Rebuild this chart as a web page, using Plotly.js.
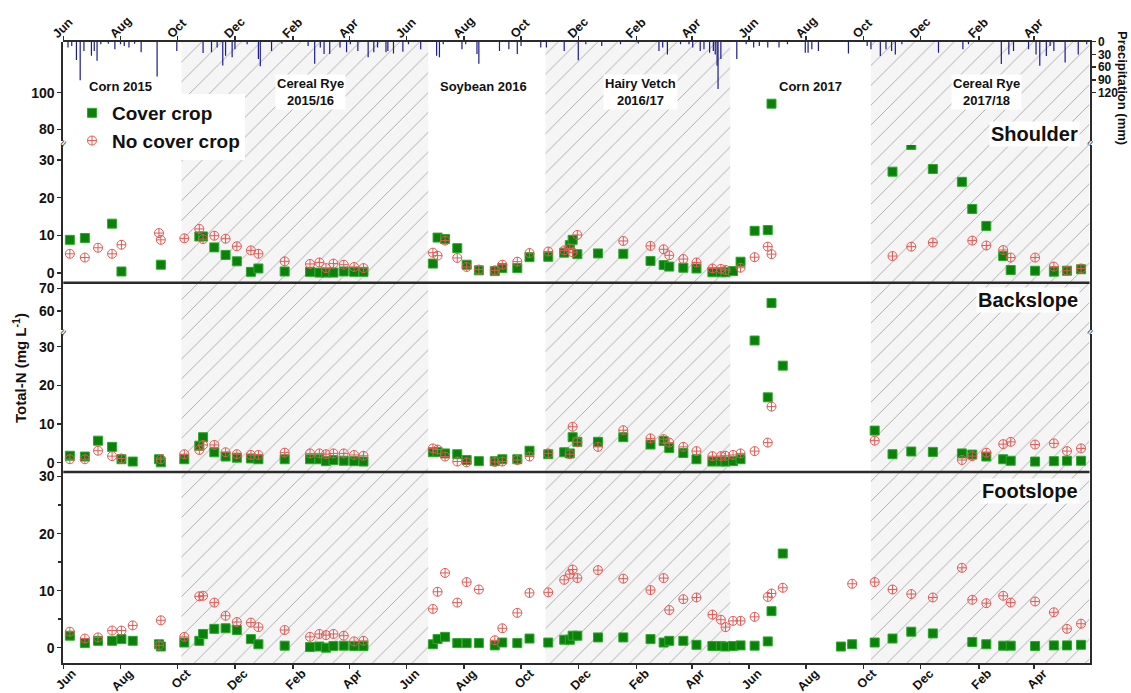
<!DOCTYPE html>
<html>
<head>
<meta charset="utf-8">
<script src="https://cdn.plot.ly/plotly-3.0.1.min.js"></script>
<style>html,body{margin:0;padding:0;background:#fff;}#chart{width:1131px;height:693px;}</style>
</head>
<body>
<div id="chart"></div>
<script>
// ---------------- DATA ----------------
// Cover-crop seasons (hatched)
const seasonStart = ['2015-10-05', '2016-10-27', '2017-10-09'];
const seasonEnd   = ['2016-06-24', '2017-05-12', '2018-05-30'];

// Daily precipitation (mm)
const precipDates = ['2015-06-06','2015-06-10','2015-06-15','2015-06-19','2015-06-23','2015-07-01','2015-07-04','2015-07-07','2015-07-11','2015-07-19','2015-07-26','2015-08-01','2015-08-05','2015-08-10','2015-08-16','2015-08-23','2015-09-09','2015-09-30','2015-10-28','2015-11-06','2015-11-12','2015-11-18','2015-11-21','2015-11-28','2015-12-01','2015-12-14','2015-12-26','2015-12-28','2016-01-09','2016-01-20','2016-02-17','2016-02-24','2016-03-01','2016-03-05','2016-03-11','2016-03-22','2016-03-29','2016-04-02','2016-04-10','2016-04-21','2016-04-27','2016-05-01','2016-05-10','2016-05-12','2016-05-18','2016-05-28','2016-06-03','2016-06-16','2016-07-03','2016-07-06','2016-07-10','2016-07-30','2016-08-03','2016-08-15','2016-08-17','2016-09-08','2016-09-18','2016-09-27','2016-10-01','2016-10-22','2016-10-28','2016-11-16','2016-12-01','2016-12-09','2016-12-26','2017-01-15','2017-02-03','2017-02-25','2017-03-01','2017-03-06','2017-03-20','2017-03-29','2017-04-02','2017-04-10','2017-04-14','2017-04-20','2017-04-24','2017-04-26','2017-04-28','2017-04-29','2017-05-02','2017-05-19','2017-05-29','2017-06-06','2017-06-12','2017-06-21','2017-07-03','2017-07-12','2017-07-31','2017-08-03','2017-08-07','2017-08-14','2017-09-15','2017-10-05','2017-10-09','2017-10-19','2017-10-25','2017-10-31','2017-11-04','2017-11-11','2017-12-20','2018-01-15','2018-01-21','2018-02-25','2018-03-05','2018-03-10','2018-03-26','2018-04-03','2018-04-07','2018-04-14','2018-04-18','2018-04-22','2018-05-04','2018-05-18','2018-05-27'];
const precipValues = [14,10,43,91,22,33,22,45,6,5,18,6,10,14,5,25,82,22,27,25,14,56,33,37,18,6,41,58,22,5,10,52,14,29,29,14,25,6,22,37,25,14,25,22,28,24,6,18,33,37,6,18,6,29,52,22,18,29,10,14,14,22,44,6,10,6,4,22,14,30,6,6,14,22,18,26,22,30,57,112,41,41,6,14,10,14,14,6,26,26,18,22,28,10,18,34,18,22,30,6,26,18,6,53,30,22,18,30,57,34,10,22,49,30,6];

// Shoulder
const shCoverDates = ['2015-06-08','2015-06-24','2015-07-23','2015-08-02','2015-09-13','2015-10-24','2015-10-28','2015-11-09','2015-11-21','2015-12-03','2015-12-18','2015-12-26','2016-01-23','2016-02-19','2016-02-29','2016-03-07','2016-03-15','2016-03-26','2016-04-06','2016-04-16','2016-06-29','2016-07-04','2016-07-12','2016-07-25','2016-08-04','2016-08-17','2016-09-03','2016-09-11','2016-09-27','2016-10-10','2016-10-30','2016-11-16','2016-11-22','2016-11-25','2016-11-30','2016-12-22','2017-01-18','2017-02-16','2017-03-02','2017-03-08','2017-03-23','2017-04-06','2017-04-23','2017-05-02','2017-05-07','2017-05-15','2017-05-23','2017-06-07','2017-06-21','2017-06-25','2017-11-01','2017-11-21','2017-12-14','2018-01-14','2018-01-25','2018-02-09','2018-02-27','2018-03-07','2018-04-02','2018-04-22','2018-05-06','2018-05-21'];
const shCoverValues = [8.8,9.3,13.1,0.4,2.2,9.7,9.7,6.8,4.8,3.1,0.3,1.2,0.4,0.3,0.1,0.1,0.1,0.4,0.3,0.3,2.5,9.4,9.0,6.6,2.2,0.7,0.5,1.3,1.3,4.2,4.3,5.4,7.4,8.8,5.0,5.2,5.1,3.2,2.1,1.7,1.4,1.2,0.2,0.2,0.2,0.5,3.0,11.2,11.4,94,26.9,34,27.6,24.2,17.0,12.5,4.5,0.8,0.6,0.35,0.6,1.0];
const shNoCoverDates = ['2015-06-08','2015-06-24','2015-07-08','2015-07-23','2015-08-02','2015-09-11','2015-09-13','2015-10-08','2015-10-24','2015-10-28','2015-11-09','2015-11-21','2015-12-03','2015-12-18','2015-12-26','2016-01-23','2016-02-19','2016-02-29','2016-03-07','2016-03-15','2016-03-26','2016-04-06','2016-04-16','2016-06-29','2016-07-04','2016-07-12','2016-07-25','2016-08-04','2016-08-17','2016-09-03','2016-09-11','2016-09-27','2016-10-10','2016-10-30','2016-11-16','2016-11-22','2016-11-25','2016-11-30','2017-01-18','2017-02-16','2017-03-02','2017-03-08','2017-03-23','2017-04-06','2017-04-23','2017-05-02','2017-05-07','2017-05-23','2017-06-07','2017-06-21','2017-06-25','2017-11-01','2017-11-21','2017-12-14','2018-01-25','2018-02-09','2018-02-27','2018-03-07','2018-04-02','2018-04-22','2018-05-06','2018-05-21'];
const shNoCoverValues = [5.1,4.1,6.7,5.1,7.5,10.6,8.8,9.2,11.7,9.0,9.9,9.1,7.1,6.0,5.1,3.1,2.4,2.8,1.3,2.5,2.2,1.6,1.3,5.4,4.6,8.6,4.0,1.6,0.9,0.7,2.2,3.0,5.3,5.7,6.0,6.5,5.5,10.1,8.5,7.2,6.3,4.7,3.7,2.8,1.2,1.1,0.8,1.4,4.2,7.0,5.0,4.5,7.0,8.1,8.6,7.3,6.1,4.1,4.1,1.7,0.6,1.2];

// Backslope
const bsCoverDates = ['2015-06-08','2015-06-24','2015-07-08','2015-07-23','2015-08-02','2015-08-14','2015-09-11','2015-09-13','2015-10-08','2015-10-24','2015-10-28','2015-11-09','2015-11-21','2015-12-03','2015-12-18','2015-12-26','2016-01-23','2016-02-19','2016-02-29','2016-03-07','2016-03-15','2016-03-26','2016-04-06','2016-04-16','2016-06-29','2016-07-04','2016-07-12','2016-07-25','2016-08-04','2016-08-17','2016-09-03','2016-09-11','2016-09-27','2016-10-10','2016-10-30','2016-11-16','2016-11-22','2016-11-25','2016-11-30','2016-12-22','2017-01-18','2017-02-16','2017-03-02','2017-03-08','2017-03-23','2017-04-06','2017-04-23','2017-05-02','2017-05-07','2017-05-15','2017-05-23','2017-06-07','2017-06-21','2017-06-25','2017-07-07','2017-10-13','2017-11-01','2017-11-21','2017-12-14','2018-01-14','2018-01-25','2018-02-09','2018-02-27','2018-03-07','2018-04-02','2018-04-22','2018-05-06','2018-05-21'];
const bsCoverValues = [1.8,1.6,5.7,4.1,0.9,0.3,0.9,0.1,0.9,4.4,6.6,2.7,1.6,1.3,1.1,0.9,0.9,0.9,0.9,0.4,0.7,0.5,0.4,0.3,2.7,2.8,2.4,2.2,0.7,0.4,0.4,0.9,0.9,3.1,2.2,2.7,2.4,6.6,5.4,5.4,6.6,4.7,5.6,3.8,2.5,0.9,0.3,0.3,0.3,0.4,0.9,31.6,16.9,63.5,25.1,8.3,2.2,2.9,2.8,2.4,2.1,1.6,0.9,0.5,0.3,0.4,0.5,0.5];
const bsNoCoverDates = ['2015-06-08','2015-06-24','2015-07-08','2015-07-23','2015-08-02','2015-09-13','2015-10-08','2015-10-24','2015-10-28','2015-11-09','2015-11-21','2015-12-03','2015-12-18','2015-12-26','2016-01-23','2016-02-19','2016-02-29','2016-03-07','2016-03-15','2016-03-26','2016-04-06','2016-04-16','2016-06-29','2016-07-04','2016-07-12','2016-07-25','2016-08-04','2016-09-03','2016-09-11','2016-09-27','2016-10-10','2016-10-30','2016-11-22','2016-11-25','2016-11-30','2016-12-22','2017-01-18','2017-02-16','2017-03-02','2017-03-08','2017-03-23','2017-04-06','2017-04-23','2017-05-02','2017-05-07','2017-05-15','2017-05-23','2017-06-07','2017-06-21','2017-06-25','2017-10-13','2018-01-14','2018-01-25','2018-02-09','2018-02-27','2018-03-07','2018-04-02','2018-04-22','2018-05-06','2018-05-21'];
const bsNoCoverValues = [0.9,0.9,3.1,1.7,1.1,0.9,2.2,3.3,4.6,4.6,2.7,2.2,2.0,2.0,2.6,2.4,2.4,2.2,2.4,2.4,2.0,1.8,3.7,3.4,1.6,0.3,0.1,0.2,0.3,0.7,1.6,2.4,2.2,9.3,5.3,4.1,8.4,6.3,6.1,5.2,4.1,3.0,1.7,1.7,1.8,2.0,2.4,3.0,5.2,14.5,5.7,0.7,1.7,2.6,4.8,5.4,4.7,5.0,3.0,3.7];

// Footslope
const fsCoverDates = ['2015-06-08','2015-06-24','2015-07-08','2015-07-23','2015-08-02','2015-08-14','2015-09-11','2015-09-13','2015-10-08','2015-10-24','2015-10-28','2015-11-09','2015-11-21','2015-12-03','2015-12-18','2015-12-26','2016-01-23','2016-02-19','2016-02-29','2016-03-07','2016-03-15','2016-03-26','2016-04-06','2016-04-16','2016-06-29','2016-07-04','2016-07-12','2016-07-25','2016-08-04','2016-08-17','2016-09-03','2016-09-11','2016-09-27','2016-10-10','2016-10-30','2016-11-16','2016-11-22','2016-11-25','2016-11-30','2016-12-22','2017-01-18','2017-02-16','2017-03-02','2017-03-08','2017-03-23','2017-04-06','2017-04-23','2017-05-02','2017-05-07','2017-05-15','2017-05-23','2017-06-07','2017-06-21','2017-06-25','2017-07-07','2017-09-07','2017-09-19','2017-10-13','2017-11-01','2017-11-21','2017-12-14','2018-01-25','2018-02-09','2018-02-27','2018-03-07','2018-04-02','2018-04-22','2018-05-06','2018-05-21'];
const fsCoverValues = [2.1,0.8,1.2,1.2,1.5,1.2,0.6,0.2,0.9,1.2,2.4,3.3,3.4,3.1,1.5,0.6,0.35,0.1,0.2,0.0,0.3,0.35,0.3,0.3,0.6,1.5,1.9,0.8,0.8,0.8,0.4,0.9,0.8,1.6,0.9,1.4,1.4,2.1,2.1,1.8,1.8,1.5,0.9,1.2,1.2,0.5,0.3,0.3,0.2,0.3,0.4,0.35,1.1,6.4,16.5,0.2,0.6,0.9,1.6,2.8,2.5,1.0,0.6,0.35,0.35,0.3,0.4,0.4,0.5];
const fsNoCoverDates = ['2015-06-08','2015-06-24','2015-07-08','2015-07-23','2015-08-02','2015-08-14','2015-09-11','2015-09-13','2015-10-08','2015-10-24','2015-10-28','2015-11-09','2015-11-21','2015-12-03','2015-12-18','2015-12-26','2016-01-23','2016-02-19','2016-02-29','2016-03-07','2016-03-15','2016-03-26','2016-04-06','2016-04-16','2016-06-29','2016-07-04','2016-07-12','2016-07-25','2016-08-04','2016-08-17','2016-09-03','2016-09-11','2016-09-27','2016-10-10','2016-10-30','2016-11-16','2016-11-22','2016-11-25','2016-11-30','2016-12-22','2017-01-18','2017-02-16','2017-03-02','2017-03-08','2017-03-23','2017-04-06','2017-04-23','2017-05-02','2017-05-07','2017-05-15','2017-05-23','2017-06-07','2017-06-21','2017-06-25','2017-07-07','2017-09-19','2017-10-13','2017-11-01','2017-11-21','2017-12-14','2018-01-14','2018-01-25','2018-02-09','2018-02-27','2018-03-07','2018-04-02','2018-04-22','2018-05-06','2018-05-21'];
const fsNoCoverValues = [2.8,1.6,1.8,3.0,3.0,3.9,0.4,4.8,1.9,9.0,9.1,7.9,5.6,4.5,4.4,3.6,3.1,1.9,2.4,2.2,2.4,2.1,1.1,1.2,6.8,9.8,13.1,7.9,11.5,10.2,1.3,3.4,6.1,9.6,9.7,11.9,12.9,13.7,12.2,13.6,12.1,10.1,12.2,6.6,8.5,8.8,5.8,4.9,3.6,4.7,4.7,5.4,8.9,9.5,10.5,11.2,11.5,10.2,9.4,8.8,14.0,8.4,7.8,9.1,7.9,8.1,6.2,3.3,4.2];

// Labels
const seasonLabels = ['Corn 2015','Cereal Rye<br>2015/16','Soybean 2016','Hairy Vetch<br>2016/17','Corn 2017','Cereal Rye<br>2017/18'];
const panelLabels = ['Shoulder','Backslope','Footslope'];
const seriesNames = ['Cover crop','No cover crop'];

// ---------------- LAYOUT HELPERS ----------------
const W = 1131, H = 693;
const px = x => x / W;
const py = y => 1 - y / H;
const FONT = 'Arial, "Liberation Sans", sans-serif';
const DARK = '#2b2b2b';
const GREEN = '#0a820a';
const RED = '#e05a55';
const DAY = 86400000;

const traces = [];

// hatched seasons (bars on an invisible overlay axis)
const hs = seasonStart.map(d => new Date(d + 'T00:00:00Z').getTime());
const he = seasonEnd.map(d => new Date(d + 'T00:00:00Z').getTime());
traces.push({
  type: 'bar', xaxis: 'x', yaxis: 'y',
  x: hs.map((s, i) => (s + he[i]) / 2),
  y: hs.map(() => 1), base: hs.map(() => 0),
  width: hs.map((s, i) => he[i] - s),
  marker: {color: '#f5f5f5', line: {width: 0},
    pattern: {shape: '/', fgcolor: '#a3a3a3', bgcolor: '#f5f5f5', size: 14, solidity: 0.06, fillmode: 'replace'}},
  hoverinfo: 'skip', showlegend: false
});

// precipitation
traces.push({
  type: 'bar', xaxis: 'x2', yaxis: 'y7',
  x: precipDates, y: precipValues, base: precipDates.map(() => 0),
  width: precipDates.map(() => 1.3 * DAY),
  marker: {color: '#1e1e8c', line: {width: 0}},
  hoverinfo: 'x+y', showlegend: false
});

function addPanel(cd, cv, nd, nv, axes, legend) {
  axes.forEach((ax, k) => {
    traces.push({
      type: 'scatter', mode: 'markers', xaxis: 'x', yaxis: ax,
      x: cd, y: cv, name: seriesNames[0], legendgroup: 'cc',
      showlegend: legend && k === 0,
      marker: {symbol: 'square', size: 9, color: GREEN, line: {width: 1, color: '#2ea82e'}}
    });
    traces.push({
      type: 'scatter', mode: 'markers', xaxis: 'x', yaxis: ax,
      x: nd, y: nv, name: seriesNames[1], legendgroup: 'nc',
      showlegend: legend && k === 0,
      marker: {symbol: 'circle-cross-open', size: 9, color: RED, line: {width: 1, color: RED}}
    });
  });
}
addPanel(shCoverDates, shCoverValues, shNoCoverDates, shNoCoverValues, ['y5', 'y6'], true);
addPanel(bsCoverDates, bsCoverValues, bsNoCoverDates, bsNoCoverValues, ['y3', 'y4'], false);
addPanel(fsCoverDates, fsCoverValues, fsNoCoverDates, fsNoCoverValues, ['y2'], false);

const tickFont = {family: FONT, size: 14, color: '#111', weight: 'bold'};
const monthFont = {family: FONT, size: 12.5, color: '#111', weight: 'bold'};
const xDomain = [px(63.3), px(1089.5)];
const xRange = ['2015-06-01', '2018-05-30'];

function yAx(dom, rng, tv, extra) {
  return Object.assign({
    domain: dom, range: rng, anchor: 'x', tickvals: tv,
    showline: true, linewidth: 2, linecolor: DARK, mirror: true,
    ticks: 'outside', ticklen: 4, tickwidth: 1.5, tickcolor: DARK,
    tickfont: tickFont, showgrid: false, zeroline: false, fixedrange: true
  }, extra || {});
}

const layout = {
  width: W, height: H,
  margin: {l: 0, r: 0, t: 0, b: 0},
  paper_bgcolor: '#fff', plot_bgcolor: 'rgba(0,0,0,0)',
  font: {family: FONT, color: '#111'},
  showlegend: true,
  legend: {x: px(72), y: py(94), xanchor: 'left', yanchor: 'top', bgcolor: '#fff',
    font: {family: FONT, size: 19, weight: 'bold', color: '#111'}, tracegroupgap: 0, itemwidth: 30},
  xaxis: {type: 'date', domain: xDomain, range: xRange, anchor: 'y2',
    showline: true, linewidth: 2, linecolor: DARK, ticks: 'outside', ticklen: 4, tickwidth: 1.5, tickcolor: DARK,
    tick0: '2015-06-01', dtick: 'M2', tickformat: '%b', tickangle: -45, tickfont: monthFont,
    ticklabelstandoff: -8, ticklabelshift: 9,
    showgrid: false, zeroline: false, fixedrange: true},
  xaxis2: {type: 'date', domain: xDomain, range: xRange, anchor: 'y7', side: 'top',
    showline: true, linewidth: 2, linecolor: DARK, ticks: 'outside', ticklen: 4, tickwidth: 1.5, tickcolor: DARK,
    tick0: '2015-06-01', dtick: 'M2', tickformat: '%b', tickangle: -45, tickfont: monthFont,
    ticklabelstandoff: -10, ticklabelshift: -10,
    showgrid: false, zeroline: false, fixedrange: true},
  yaxis: {domain: [py(663.3), py(41.7)], range: [0, 1], anchor: 'x', visible: false, fixedrange: true},
  yaxis2: yAx([py(663.3), py(472)], [-2.74, 30.8], [0, 10, 20, 30],
    {minor: {dtick: 5, tick0: 0, ticks: 'outside', ticklen: 3, tickcolor: DARK}}),
  yaxis3: yAx([py(472), py(334)], [-2.4, 33.28], [0, 10, 20, 30]),
  yaxis4: yAx([py(330), py(282.7)], [51.63, 72.47], [60, 70]),
  yaxis5: yAx([py(282.7), py(145)], [-2.575, 33.98], [0, 10, 20, 30]),
  yaxis6: yAx([py(141), py(41.7)], [73.6, 127.9], [80, 100], {mirror: false}),
  yaxis7: {domain: [py(141), py(41.7)], range: [234.8, 0], anchor: 'x2', side: 'right',
    tickvals: [0, 30, 60, 90, 120], showline: true, linewidth: 2, linecolor: DARK,
    ticks: 'outside', ticklen: 4, tickwidth: 1.5, tickcolor: DARK,
    tickfont: {family: FONT, size: 12, color: '#111', weight: 'bold'},
    showgrid: false, zeroline: false, fixedrange: true},
  shapes: [282.7, 472].map(y => ({type: 'line', xref: 'paper', yref: 'paper',
    x0: xDomain[0], x1: xDomain[1], y0: py(y), y1: py(y), line: {color: DARK, width: 2.5}})),
  annotations: []
};

// season labels
const seasonPos = [[121, 87], [310, 92], [483, 87], [640, 92], [810, 87], [986, 92]];
seasonLabels.forEach((t, i) => layout.annotations.push({
  text: t, xref: 'paper', yref: 'paper', x: px(seasonPos[i][0]), y: py(seasonPos[i][1]),
  xanchor: 'center', yanchor: 'middle',
  showarrow: false, bgcolor: '#fff', font: {family: FONT, size: 13, weight: 'bold', color: '#111'}
}));
// panel labels
const panelY = [134, 300, 491];
panelLabels.forEach((t, i) => layout.annotations.push({
  text: t, xref: 'paper', yref: 'paper', x: px(1080), y: py(panelY[i]), xanchor: 'right', yanchor: 'middle',
  showarrow: false, bgcolor: '#fff', font: {family: FONT, size: 20, weight: 'bold', color: '#111'}
}));
// axis break marks
[[63.3, 143], [63.3, 332], [1089.5, 143], [1089.5, 332]].forEach(p => layout.annotations.push({
  text: '≈', xref: 'paper', yref: 'paper', x: px(p[0]), y: py(p[1]), xanchor: 'center', yanchor: 'middle',
  textangle: -60, showarrow: false, font: {family: FONT, size: 11, color: DARK}
}));
// axis titles
layout.annotations.push({
  text: 'Total-N (mg L<sup>-1</sup>)', xref: 'paper', yref: 'paper', x: px(19), y: py(368),
  xanchor: 'center', yanchor: 'middle',
  textangle: -90, showarrow: false, font: {family: FONT, size: 15, weight: 'bold', color: '#111'}
});
layout.annotations.push({
  text: 'Precipitation (mm)', xref: 'paper', yref: 'paper', x: px(1123), y: py(88),
  xanchor: 'center', yanchor: 'middle',
  textangle: 90, showarrow: false, font: {family: FONT, size: 13, weight: 'bold', color: '#111'}
});

Plotly.newPlot('chart', traces, layout, {displayModeBar: false, staticPlot: true});
</script>
</body>
</html>
